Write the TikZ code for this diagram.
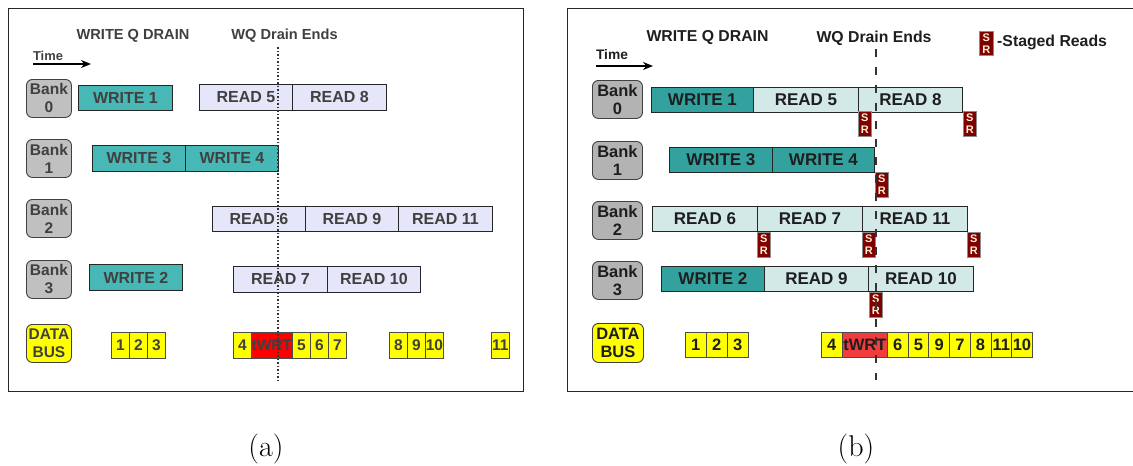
\documentclass[tikz,border=0pt]{standalone}
\usepackage{fontspec}
\newfontfamily\sans{Liberation Sans}
\usetikzlibrary{arrows.meta}

\definecolor{lteal}{HTML}{47B8B5}
\definecolor{rteal}{HTML}{33A29F}
\definecolor{lread}{HTML}{E6E6FA}
\definecolor{rread}{HTML}{D2E9E7}
\definecolor{ltext}{HTML}{404040}
\definecolor{rtext}{HTML}{1E1E1E}
\definecolor{lbank}{HTML}{C0C0C0}
\definecolor{rbank}{HTML}{B3B3B3}
\definecolor{busyel}{HTML}{FFFF00}
\definecolor{lred}{HTML}{FF0000}
\definecolor{rred}{HTML}{F03C3C}
\definecolor{srred}{HTML}{7F0000}
\definecolor{srtext}{HTML}{FFF0D0}

\tikzset{
  frame/.style={draw=black!85, line width=1pt},
  % left panel
  lbar/.style={draw=black!85, line width=0.9pt, minimum height=25pt, inner sep=0pt,
    anchor=north west, text=ltext, font={\sans\bfseries\fontsize{16}{17}\selectfont}},
  lw/.style={lbar, fill=lteal},
  lr/.style={lbar, fill=lread},
  lcell/.style={draw=black!70, line width=0.8pt, fill=busyel, minimum width=18pt,
    minimum height=26pt, inner sep=0pt, anchor=north west, text=ltext,
    font={\sans\bfseries\fontsize{15.5}{17}\selectfont}},
  lbankbox/.style={draw=black!75, line width=0.9pt, rounded corners=6pt, fill=lbank,
    minimum width=45pt, minimum height=38pt, inner sep=0pt, anchor=north west,
    align=center, text=ltext, font={\sans\bfseries\fontsize{15.5}{18}\selectfont}},
  lhead/.style={text=ltext, inner sep=0pt, font={\sans\bfseries\fontsize{14.6}{16}\selectfont}},
  % right panel
  rbar/.style={draw=black!85, line width=0.9pt, minimum height=25pt, inner sep=0pt,
    anchor=north west, text=rtext, font={\sans\bfseries\fontsize{17}{18}\selectfont}},
  rw/.style={rbar, fill=rteal},
  rr/.style={rbar, fill=rread},
  rcell/.style={draw=black!70, line width=0.8pt, fill=busyel, minimum width=20.7pt,
    minimum height=25pt, inner sep=0pt, anchor=north west, text=rtext,
    font={\sans\bfseries\fontsize{16.5}{18}\selectfont}},
  rbankbox/.style={draw=black!75, line width=0.9pt, rounded corners=6pt, fill=rbank,
    minimum width=50pt, minimum height=38pt, inner sep=0pt, anchor=north west,
    align=center, text=rtext, font={\sans\bfseries\fontsize{16.5}{18.5}\selectfont}},
  rhead/.style={text=rtext, inner sep=0pt, font={\sans\bfseries\fontsize{15.8}{17}\selectfont}},
  srbox/.style={draw=black!45, line width=0.8pt, fill=srred, minimum width=13pt,
    minimum height=25pt, inner sep=0pt, anchor=north west, align=center, text=srtext,
    font={\sans\bfseries\fontsize{11}{11.8}\selectfont}},
  tarrow/.style={line width=2pt, -{Stealth[length=10pt,width=8pt]}},
  caption/.style={inner sep=0pt, font={\fontsize{30}{33}\selectfont}}
}

\begin{document}
\begin{tikzpicture}[x=1pt, y=-1pt]
\useasboundingbox (0,0) rectangle (1133,466);

% ---------------- panel (a) ----------------
\draw[frame] (8,8) rectangle (523,391);

\node[lhead] (lq) at (133,36) {WRITE Q DRAIN};
\node[lhead] (lend) at (284.5,36) {WQ Drain Ends};
\node[lhead, font={\sans\bfseries\fontsize{12.9}{14}\selectfont}] (ltime) at (48,56) {Time};
\coordinate (lta) at (33,64);
\coordinate (ltb) at (91,64);
\draw[tarrow] (lta) -- (ltb);

\node[lbankbox] (lb0) at (26,79)  {Bank\\0};
\node[lbankbox] (lb1) at (26,139) {Bank\\1};
\node[lbankbox] (lb2) at (26,199) {Bank\\2};
\node[lbankbox] (lb3) at (26,260) {Bank\\3};
\node[lbankbox, fill=busyel] (lbus) at (26,324) {DATA\\BUS};

% bank 0
\node[lw, minimum width=94pt] (lw1) at (78,85) {WRITE 1};
\node[lr, minimum width=93pt, minimum height=26pt] (lr5) at (199,84) {READ 5};
\node[lr, minimum width=94pt, minimum height=26pt] (lr8) at (292,84) {READ 8};
% bank 1
\node[lw, minimum width=93pt, minimum height=26pt] (lw3) at (92,145) {WRITE 3};
\node[lw, minimum width=93pt, minimum height=26pt] (lw4) at (185,145) {WRITE 4};
% bank 2
\node[lr, minimum width=93pt] (lr6) at (212,206) {READ 6};
\node[lr, minimum width=93pt] (lr9) at (305,206) {READ 9};
\node[lr, minimum width=94pt] (lr11) at (398,206) {READ 11};
% bank 3
\node[lw, minimum width=93pt, minimum height=26pt] (lw2) at (89,264) {WRITE 2};
\node[lr, minimum width=94pt, minimum height=26pt] (lr7) at (233,266) {READ 7};
\node[lr, minimum width=93pt, minimum height=26pt] (lr10) at (327,266) {READ 10};

% data bus
\node[lcell] (lc1) at (111,332) {1};
\node[lcell] (lc2) at (129,332) {2};
\node[lcell] (lc3) at (147,332) {3};
\node[lcell] (lc4) at (233,332) {4};
\node[lcell, fill=lred, minimum width=41pt] (lct) at (251,332) {tWRT};
\node[lcell] (lc5) at (292,332) {5};
\node[lcell] (lc6) at (310,332) {6};
\node[lcell] (lc7) at (328,332) {7};
\node[lcell] (lc8) at (389,332) {8};
\node[lcell] (lc9) at (407,332) {9};
\node[lcell] (lc10) at (425,332) {10};
\node[lcell] (lc11) at (491,332) {11};

% end of the write drain
\coordinate (ldt) at (278,47);
\coordinate (ldb) at (278,380);
\draw[black!80, line width=1.1pt, dash pattern=on 1.5pt off 2pt] (ldt) -- (ldb);

% ---------------- panel (b) ----------------
\draw[frame] (1134,8) -- (567,8) -- (567,391) -- (1134,391);

\node[rhead] (rq) at (707.5,38) {WRITE Q DRAIN};
\node[rhead] (rend) at (874,38) {WQ Drain Ends};
\node[srbox, minimum width=14pt, minimum height=24pt] (srkey) at (979,31) {S\\R};
\node[rhead, anchor=west] (rkey) at (997,42) {-Staged Reads};
\node[rhead, font={\sans\bfseries\fontsize{13.8}{15}\selectfont}] (rtime) at (612,55) {Time};
\coordinate (rta) at (596,66);
\coordinate (rtb) at (653,66);
\draw[tarrow] (rta) -- (rtb);

\node[rbankbox] (rb0) at (592,80)  {Bank\\0};
\node[rbankbox] (rb1) at (592,141) {Bank\\1};
\node[rbankbox] (rb2) at (592,201) {Bank\\2};
\node[rbankbox] (rb3) at (592,261) {Bank\\3};
\node[rbankbox, fill=busyel, minimum width=51pt, minimum height=39pt] (rbus) at (592,323) {DATA\\BUS};

% bank 0
\node[rw, minimum width=102pt] (rw1) at (651,87) {WRITE 1};
\node[rr, minimum width=105pt] (rr5) at (753,87) {READ 5};
\node[rr, minimum width=104pt] (rr8) at (858,87) {READ 8};
% bank 1
\node[rw, minimum width=103pt] (rw3) at (669,147) {WRITE 3};
\node[rw, minimum width=102pt] (rw4) at (772,147) {WRITE 4};
% bank 2
\node[rr, minimum width=105pt] (rr6) at (652,206) {READ 6};
\node[rr, minimum width=105pt] (rr7) at (757,206) {READ 7};
\node[rr, minimum width=105pt] (rr11) at (862,206) {READ 11};
% bank 3
\node[rw, minimum width=103pt] (rw2) at (661,266) {WRITE 2};
\node[rr, minimum width=104pt] (rr9) at (764,266) {READ 9};
\node[rr, minimum width=105pt] (rr10) at (868,266) {READ 10};

% staged reads
\node[srbox] (sr1) at (858,111) {S\\R};
\node[srbox] (sr2) at (963,111) {S\\R};
\node[srbox] (sr3) at (875,172) {S\\R};
\node[srbox] (sr4) at (757,232) {S\\R};
\node[srbox] (sr5) at (862,232) {S\\R};
\node[srbox] (sr6) at (967,232) {S\\R};
\node[srbox] (sr7) at (869,292) {S\\R};

% data bus
\node[rcell] (rc1) at (685,332) {1};
\node[rcell] (rc2) at (706,332) {2};
\node[rcell] (rc3) at (727,332) {3};
\node[rcell] (rc4) at (821,332) {4};
\node[rcell, fill=rred, minimum width=45pt] (rct) at (842,332) {tWRT};
\node[rcell] (rc6) at (887,332) {6};
\node[rcell] (rc5) at (907.7,332) {5};
\node[rcell] (rc9) at (928.4,332) {9};
\node[rcell] (rc7) at (949.1,332) {7};
\node[rcell] (rc8) at (969.8,332) {8};
\node[rcell] (rc11) at (990.5,332) {11};
\node[rcell] (rc10) at (1011.2,332) {10};

% end of the write drain
\coordinate (rdt) at (876,49);
\coordinate (rdb) at (876,380);
\draw[black!80, line width=1.1pt, dash pattern=on 8pt off 10pt] (rdt) -- (rdb);

% ---------------- captions ----------------
\node[caption] (capa) at (266,449) {(a)};
\node[caption] (capb) at (856,449) {(b)};
\end{tikzpicture}
\end{document}
